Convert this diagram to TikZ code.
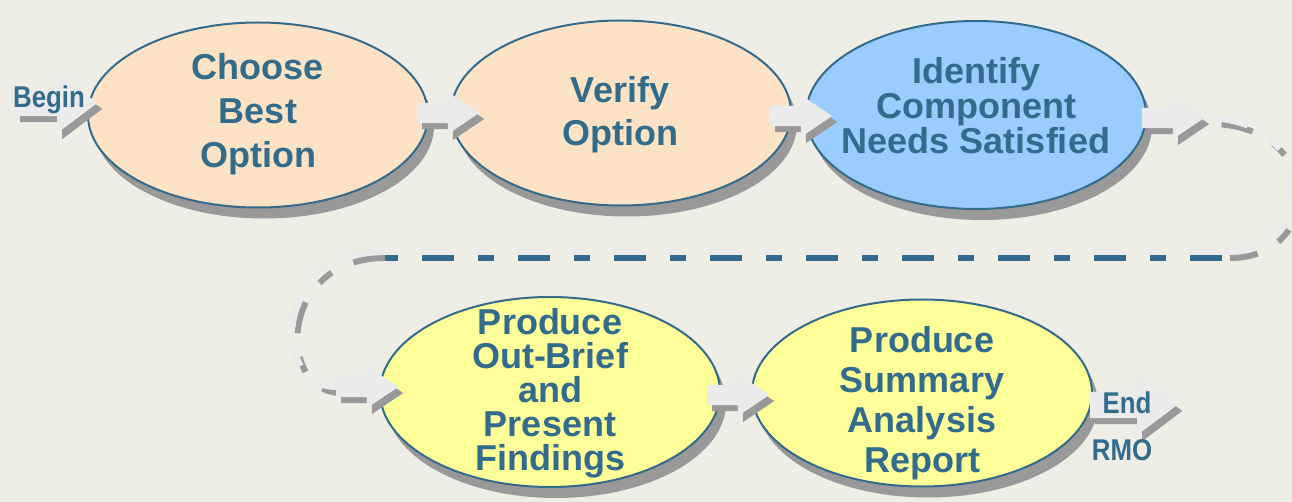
\documentclass[tikz,border=0pt]{standalone}
\usepackage{fontspec}
\setmainfont{Liberation Sans}
\newfontfamily\narrowsans[FakeStretch=0.86]{Liberation Sans}
\usetikzlibrary{shapes.geometric,shapes.arrows,shadows}
\pgfdeclarelayer{background}
\pgfsetlayers{background,main}

\definecolor{bgcol}{HTML}{EEEDE6}
\definecolor{inkteal}{HTML}{336B8C}
\definecolor{shadegray}{HTML}{999999}
\definecolor{arrowlight}{HTML}{EBEBEB}
\definecolor{peach}{HTML}{FDE3C5}
\definecolor{skyblue}{HTML}{99CCFF}
\definecolor{paleyellow}{HTML}{FFFF99}

\tikzset{
  stage/.style={ellipse, draw=inkteal, line width=2pt, inner sep=0pt,
    minimum width=340pt, minimum height=185pt,
    drop shadow={shadow xshift=6pt, shadow yshift=-11pt, fill=shadegray, opacity=1}},
  stagetext/.style={text=inkteal, align=center, inner sep=0pt,
    font=\bfseries\fontsize{36}{#1}\selectfont},
  flowarrow/.style={single arrow, fill=arrowlight, draw=none,
    inner xsep=0pt, inner ysep=10pt, anchor=tail, minimum height=62pt,
    single arrow head extend=11pt, single arrow tip angle=68,
    drop shadow={shadow xshift=5pt, shadow yshift=-6pt, fill=shadegray, opacity=1}},
  bigarrow/.style={flowarrow, inner ysep=13pt,
    single arrow head extend=17pt, single arrow tip angle=74},
  tag/.style={text=inkteal, inner sep=0pt,
    font=\narrowsans\bfseries\fontsize{30}{32}\selectfont},
  loopdash/.style={line width=6pt, dash pattern=on 32pt off 24pt on 16pt off 24pt},
}

\begin{document}
\begin{tikzpicture}[x=1pt, y=-1pt]
  \begin{pgfonlayer}{background}
    \fill[bgcol] (0,0) rectangle (1292,502);
  \end{pgfonlayer}
  \useasboundingbox (0,0) rectangle (1292,502);

  % process stages
  \node[stage, fill=peach] (e1) at (258,115) {};
  \node[stage, fill=peach] (e2) at (621,113) {};
  \node[stage, fill=skyblue, minimum height=188pt] (e3) at (976,115) {};
  \node[stage, fill=paleyellow, minimum height=190pt] (e4) at (550,392) {};
  \node[stage, fill=paleyellow, minimum height=187pt] (e5) at (922,393) {};

  \node[stagetext=44] (t1) at (258,114) {Choose\\Best\\Option};
  \node[stagetext=43] (t2) at (620,115) {Verify\\Option};
  \node[stagetext=35] (t3) at (976,106) {Identify\\Component\\Needs Satisfied};
  \node[stagetext=34] (t4) at (550,393) {Produce\\Out-Brief\\and\\Present\\Findings};
  \node[stagetext=40] (t5) at (922,403) {Produce\\Summary\\Analysis\\Report};

  % block arrows between stages
  \node[bigarrow, minimum height=82pt] (a0) at (15,103) {};
  \node[flowarrow] (a1) at (417,113) {};
  \node[flowarrow] (a2) at (770,116) {};
  \node[flowarrow] (a3) at (1142,118) {};
  \node[flowarrow] (a4) at (336,387) {};
  \node[flowarrow] (a5) at (707,395) {};
  \node[bigarrow, minimum height=87pt] (a6) at (1090,405) {};

  % dashed return loop from the third stage down to the fourth
  \coordinate (k1) at (1225,252);
  \coordinate (k2) at (380,252);
  \begin{pgfonlayer}{background}
    \begin{scope}[transform canvas={xshift=5pt, yshift=-6pt}]
      \draw[loopdash, shadegray, dash phase=84pt]
        (a3.tip) .. controls (1320,118) and (1320,252) .. (k1);
      \draw[loopdash, inkteal, dash phase=88pt] (k1) -- (k2);
      \draw[loopdash, shadegray]
        (k2) .. controls (272,252) and (272,387) .. (a4.tail);
    \end{scope}
    \draw[loopdash, arrowlight, dash phase=84pt]
      (a3.tip) .. controls (1320,118) and (1320,252) .. (k1);
    \draw[loopdash, arrowlight, dash phase=88pt] (k1) -- (k2);
    \draw[loopdash, arrowlight]
      (k2) .. controls (272,252) and (272,387) .. (a4.tail);
  \end{pgfonlayer}

  % start and end tags
  \node[tag] (begin) at (49,100) {Begin};
  \node[tag] (end) at (1127,403) {End};
  \node[tag] (rmo) at (1122,450) {RMO};
\end{tikzpicture}
\end{document}
